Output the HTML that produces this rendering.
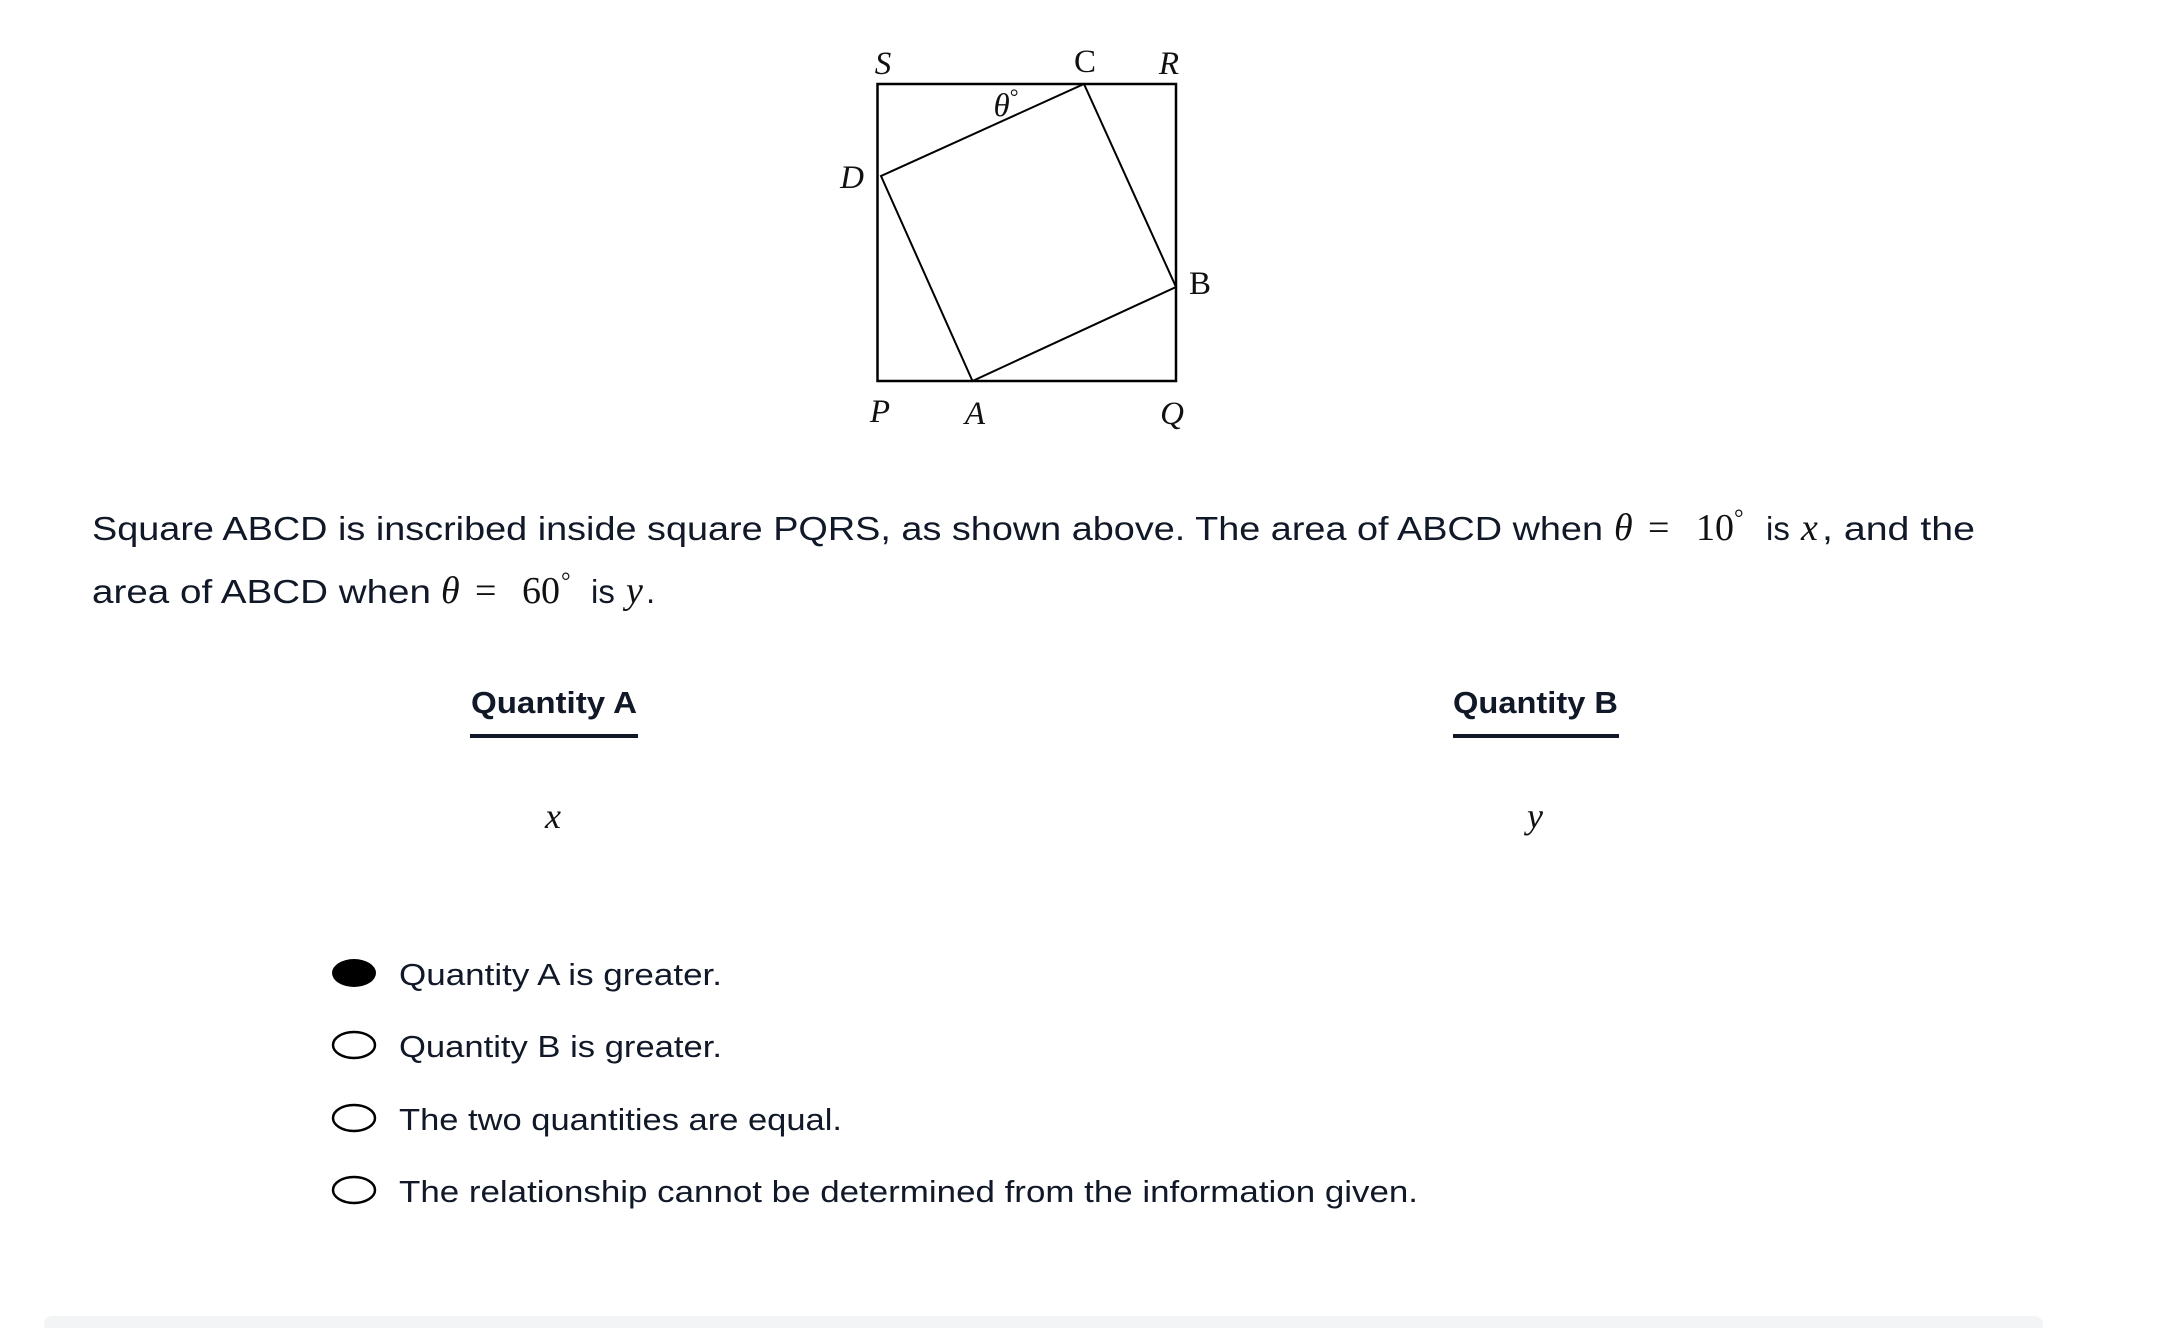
<!DOCTYPE html>
<html><head><style>
html,body{margin:0;padding:0;background:#fff;}
svg{display:block;}
.s{font-family:"Liberation Sans",sans-serif;fill:#111827;}
.m{font-family:"Liberation Serif",serif;fill:#111;}
</style></head><body>
<svg width="2178" height="1328" viewBox="0 0 2178 1328" xmlns="http://www.w3.org/2000/svg">
<rect x="877.5" y="84" width="298.5" height="297" fill="none" stroke="#000" stroke-width="2.5"/>
<polygon points="1084,84 1176,287 972.5,381 881,176" fill="none" stroke="#000" stroke-width="2"/>
<g class="m" font-style="italic" font-size="33">
<text x="883" y="74" text-anchor="middle">S</text>
<text x="1085" y="72" text-anchor="middle" font-style="normal">C</text>
<text x="1169" y="74" text-anchor="middle">R</text>
<text x="1006" y="116" text-anchor="middle">θ<tspan font-style="normal" font-size="22" dy="-12">°</tspan></text>
<text x="852" y="188" text-anchor="middle">D</text>
<text x="1200" y="294" text-anchor="middle" font-style="normal">B</text>
<text x="880" y="422" text-anchor="middle">P</text>
<text x="975" y="424" text-anchor="middle">A</text>
<text x="1172" y="424" text-anchor="middle">Q</text>
</g>
<text class="s" x="92" y="540" font-size="33" textLength="1511" lengthAdjust="spacingAndGlyphs">Square ABCD is inscribed inside square PQRS, as shown above. The area of ABCD when</text>
<text class="m" x="1614" y="540" font-size="38" font-style="italic">θ</text>
<text class="m" x="1648" y="540" font-size="38">=</text>
<text class="m" x="1696" y="540" font-size="38">10</text>
<text class="m" x="1734" y="526" font-size="24">°</text>
<text class="s" x="1766" y="540" font-size="33">is</text>
<text class="m" x="1801" y="540" font-size="38" font-style="italic">x</text>
<text class="s" x="1822" y="540" font-size="33" textLength="153" lengthAdjust="spacingAndGlyphs">, and the</text>
<text class="s" x="92" y="603" font-size="33" textLength="339" lengthAdjust="spacingAndGlyphs">area of ABCD when</text>
<text class="m" x="441" y="603" font-size="38" font-style="italic">θ</text>
<text class="m" x="475" y="603" font-size="38">=</text>
<text class="m" x="522" y="603" font-size="38">60</text>
<text class="m" x="561" y="589" font-size="24">°</text>
<text class="s" x="591" y="603" font-size="33">is</text>
<text class="m" x="626" y="603" font-size="38" font-style="italic">y</text>
<text class="s" x="646" y="603" font-size="33">.</text>
<text class="s" x="471" y="713" font-size="31" font-weight="bold" textLength="166" lengthAdjust="spacingAndGlyphs">Quantity A</text>
<rect x="470" y="734" width="168" height="4" fill="#111827"/>
<text class="s" x="1453" y="713" font-size="31" font-weight="bold" textLength="165" lengthAdjust="spacingAndGlyphs">Quantity B</text>
<rect x="1453" y="734" width="166" height="4" fill="#111827"/>
<text class="m" x="553" y="828" font-size="36" font-style="italic" text-anchor="middle">x</text>
<text class="m" x="1535" y="828" font-size="36" font-style="italic" text-anchor="middle">y</text>
<ellipse cx="354" cy="973" rx="22" ry="14" fill="#000"/>
<ellipse cx="354" cy="1045" rx="21" ry="13" fill="none" stroke="#000" stroke-width="2.5"/>
<ellipse cx="354" cy="1118" rx="21" ry="13" fill="none" stroke="#000" stroke-width="2.5"/>
<ellipse cx="354" cy="1190" rx="21" ry="13" fill="none" stroke="#000" stroke-width="2.5"/>
<g class="s" font-size="31">
<text x="399" y="985" textLength="323" lengthAdjust="spacingAndGlyphs">Quantity A is greater.</text>
<text x="399" y="1057" textLength="323" lengthAdjust="spacingAndGlyphs">Quantity B is greater.</text>
<text x="399" y="1130" textLength="443" lengthAdjust="spacingAndGlyphs">The two quantities are equal.</text>
<text x="399" y="1202" textLength="1019" lengthAdjust="spacingAndGlyphs">The relationship cannot be determined from the information given.</text>
</g>
<rect x="44" y="1316" width="1999" height="30" rx="8" fill="#f3f4f6"/>
</svg>
</body></html>
